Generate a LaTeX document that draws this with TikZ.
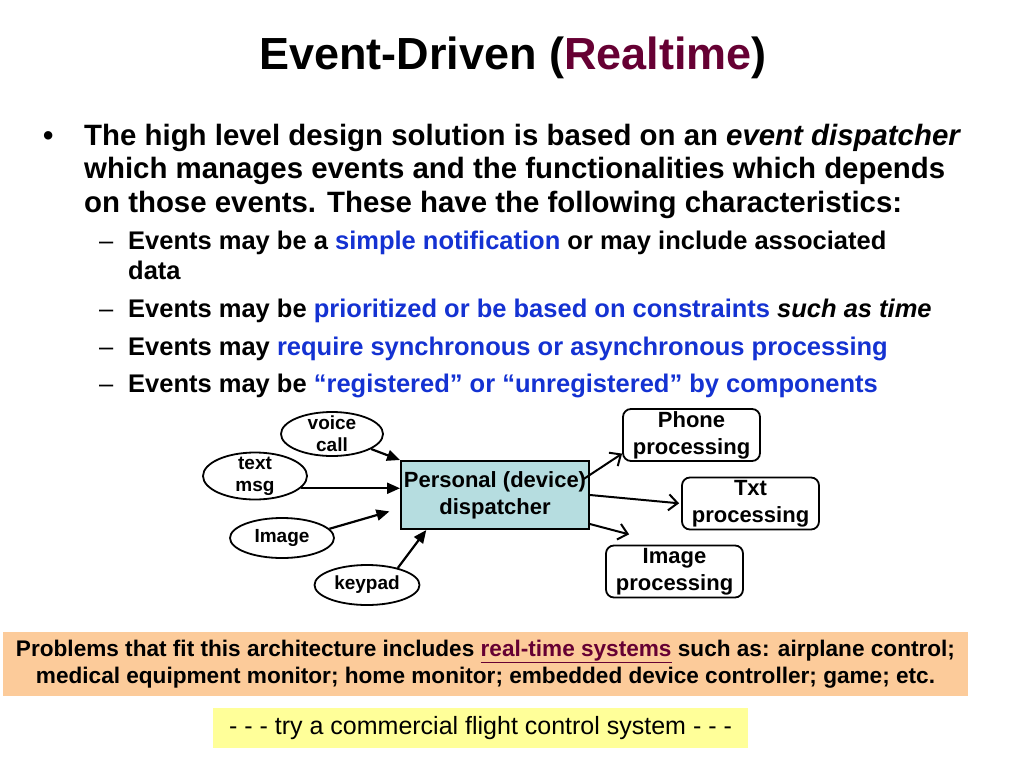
\documentclass[tikz,border=0pt]{standalone}
\usepackage{fontspec}
\setmainfont{Liberation Sans}
\usetikzlibrary{shapes.geometric, arrows.meta}
\definecolor{maroon}{RGB}{102,0,51}
\definecolor{linkblue}{RGB}{20,50,210}
\definecolor{dispcyan}{RGB}{182,221,224}
\definecolor{peach}{RGB}{252,203,154}
\definecolor{paleyellow}{RGB}{255,255,153}
\tikzstyle{txt}=[anchor=base west, inner sep=0pt]
\tikzstyle{lvlone}=[txt, font=\fontsize{29.4}{34}\selectfont\bfseries]
\tikzstyle{lvltwo}=[txt, font=\fontsize{25.5}{30}\selectfont\bfseries]
\tikzstyle{evt}=[ellipse, draw, line width=1.8pt, minimum width=104pt, minimum height=40pt, inner xsep=0pt, inner ysep=-6pt, align=center, font=\fontsize{19}{22}\selectfont\bfseries]
\tikzstyle{disp}=[rectangle, draw, fill=dispcyan, line width=2pt, minimum width=188pt, minimum height=68pt, inner sep=0pt, align=center, font=\fontsize{22}{27}\selectfont\bfseries]
\tikzstyle{proc}=[rectangle, draw, rounded corners=8pt, line width=1.8pt, minimum width=137pt, minimum height=52pt, inner sep=0pt, align=center, font=\fontsize{22}{27}\selectfont\bfseries]
\tikzstyle{inarrow}=[-{Triangle[length=13pt,width=11pt]}, line width=2.2pt]
\tikzstyle{outarrow}=[-{Straight Barb[length=9pt,width=16pt]}, line width=2pt]

\begin{document}
\begin{tikzpicture}[x=1pt,y=-1pt]
    \useasboundingbox (0,0) rectangle (1024,768);

    \node[anchor=base, inner sep=0pt, font=\fontsize{45}{54}\selectfont\bfseries] (title) at (513,70)
        {Event-Driven (\textcolor{maroon}{Realtime})};

    % first level bullet
    \node[lvlone] (dot) at (43,145) {\textbullet};
    \node[lvlone] (l1) at (84,145) {The high level design solution is based on an \textit{event dispatcher}};
    \node[lvlone] (l2) at (84,178) {which manages events and the functionalities which depends};
    \node[lvlone] (l3) at (84,212) {on those events. These have the following characteristics:};

    % second level
    \foreach \y/\n in {249/a, 317/b, 355/c, 392/d}
        \node[txt, font=\fontsize{25.5}{30}\selectfont] (dash\n) at (99,\y) {\textendash};
    \node[lvltwo] (s1) at (128,249) {Events may be a \textcolor{linkblue}{simple notification} or may include associated};
    \node[lvltwo] (s1b) at (128,279) {data};
    \node[lvltwo] (s2) at (128,317) {Events may be \textcolor{linkblue}{prioritized or be based on constraints} \textit{such as time}};
    \node[lvltwo] (s3) at (128,355) {Events may \textcolor{linkblue}{require synchronous or asynchronous processing}};
    \node[lvltwo] (s4) at (128,392) {Events may be \textcolor{linkblue}{“registered” or “unregistered” by components}};

    % diagram
    \node[evt, minimum width=102pt, minimum height=44pt] (voice) at (332,434) {voice\\call};
    \node[evt, minimum height=47pt] (textm) at (255,476) {text\\msg};
    \node[evt, minimum height=40pt] (img) at (282,538) {Image};
    \node[evt, minimum width=105pt, minimum height=40pt] (keypad) at (367,585) {keypad};

    \node[disp] (dispatch) at (495,495) {Personal (device)\\dispatcher};

    \node[proc] (phone) at (691.5,435) {Phone\\processing};
    \node[proc] (txtp) at (750.5,503.5) {Txt\\processing};
    \node[proc] (imgp) at (674.5,571.5) {Image\\processing};

    \draw[inarrow] (voice.-21) -- (dispatch.north west);
    \draw[inarrow] (textm.-15) -- (textm.-15 -| dispatch.west);
    \draw[inarrow, shorten >=11pt] (img.11) -- (dispatch.188);
    \draw[inarrow] (keypad.29) -- (dispatch.207);

    \draw[outarrow, shorten <=-9pt] (dispatch.12) -- (phone.195);
    \draw[outarrow, shorten >=2pt] (dispatch.east) -- (txtp.west);
    \draw[outarrow, shorten >=40pt] (dispatch.-17) -- (imgp.104);

    % boxes at the bottom
    \node[fill=peach, minimum width=965pt, minimum height=64pt, inner sep=0pt, align=center,
          font=\fontsize{22.6}{27}\selectfont\bfseries] (problems) at (485.5,664)
        {Problems that fit this architecture includes \textcolor{maroon}{\underline{real-time systems}} such as: airplane control;\\
         medical equipment monitor; home monitor; embedded device controller; game; etc.};
    \node[fill=paleyellow, minimum width=535pt, minimum height=40pt, inner sep=0pt,
          font=\fontsize{25}{30}\selectfont] (tryit) at (480.5,728)
        {- - - try a commercial flight control system - - -};
\end{tikzpicture}
\end{document}
